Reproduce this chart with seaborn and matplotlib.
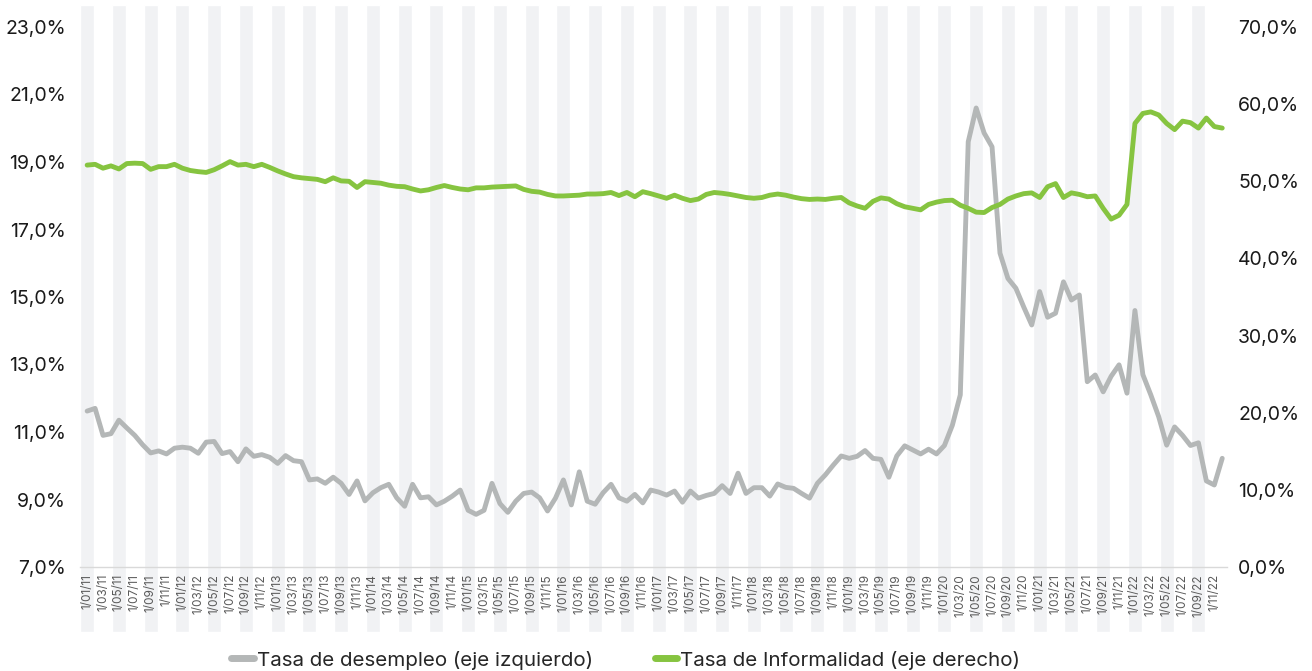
import numpy as np
import pandas as pd
import matplotlib
matplotlib.use('Agg')
import matplotlib.pyplot as plt
from matplotlib.lines import Line2D
import seaborn as sns

# tasa de desempleo mensual (%), ene-2011 .. dic-2022 (eje izquierdo)
desempleo = [
    11.62, 11.70, 10.90, 10.95, 11.35, 11.12, 10.90, 10.62, 10.38, 10.44, 10.35, 10.52,
    10.55, 10.52, 10.37, 10.70, 10.72, 10.36, 10.42, 10.12, 10.50, 10.28, 10.33, 10.25,
    10.07, 10.30, 10.15, 10.12, 9.58, 9.61, 9.48, 9.66, 9.48, 9.15, 9.55, 8.96,
    9.20, 9.35, 9.45, 9.05, 8.80, 9.45, 9.05, 9.08, 8.84, 8.95, 9.10, 9.28,
    8.68, 8.56, 8.68, 9.48, 8.88, 8.62, 8.95, 9.18, 9.22, 9.05, 8.66, 9.04,
    9.58, 8.84, 9.82, 8.95, 8.86, 9.20, 9.45, 9.05, 8.95, 9.15, 8.90, 9.28,
    9.22, 9.13, 9.25, 8.92, 9.25, 9.04, 9.12, 9.18, 9.41, 9.18, 9.78, 9.18,
    9.35, 9.35, 9.10, 9.46, 9.36, 9.33, 9.18, 9.04, 9.48, 9.73, 10.02, 10.29,
    10.22, 10.28, 10.45, 10.22, 10.19, 9.66, 10.29, 10.59, 10.47, 10.35, 10.49, 10.35,
    10.60, 11.20, 12.10, 19.60, 20.60, 19.86, 19.45, 16.30, 15.55, 15.26, 14.70, 14.17,
    15.16, 14.40, 14.52, 15.45, 14.91, 15.06, 12.49, 12.69, 12.19, 12.65, 12.99, 12.15,
    14.60, 12.70, 12.10, 11.45, 10.61, 11.15, 10.90, 10.60, 10.68, 9.55, 9.43, 10.22,
]

# tasa de informalidad mensual (%), eje derecho
informalidad = [
    52.10, 52.20, 51.70, 52.00, 51.60, 52.30, 52.35, 52.30, 51.55, 51.90, 51.90, 52.20,
    51.70, 51.40, 51.25, 51.15, 51.50, 52.00, 52.55, 52.10, 52.20, 51.90, 52.20, 51.80,
    51.35, 50.95, 50.60, 50.45, 50.35, 50.25, 49.95, 50.45, 50.05, 50.00, 49.20, 49.95,
    49.85, 49.75, 49.50, 49.35, 49.30, 49.00, 48.75, 48.90, 49.20, 49.45, 49.20, 49.00,
    48.90, 49.15, 49.15, 49.25, 49.30, 49.35, 49.40, 48.95, 48.70, 48.60, 48.30, 48.10,
    48.10, 48.15, 48.20, 48.35, 48.35, 48.40, 48.55, 48.15, 48.55, 48.00, 48.65, 48.40,
    48.10, 47.80, 48.20, 47.80, 47.50, 47.70, 48.30, 48.55, 48.45, 48.30, 48.10, 47.90,
    47.80, 47.90, 48.20, 48.35, 48.20, 47.95, 47.75, 47.65, 47.70, 47.65, 47.80, 47.90,
    47.20, 46.80, 46.50, 47.40, 47.85, 47.70, 47.10, 46.70, 46.50, 46.30, 47.00, 47.30,
    47.50, 47.55, 46.90, 46.50, 46.00, 45.95, 46.60, 47.00, 47.70, 48.10, 48.40, 48.50,
    47.90, 49.30, 49.70, 47.90, 48.50, 48.30, 48.00, 48.10, 46.50, 45.10, 45.60, 47.00,
    57.50, 58.80, 59.00, 58.60, 57.50, 56.70, 57.80, 57.60, 56.90, 58.20, 57.10, 56.90,
]

fechas = pd.date_range('2011-01-01', '2022-12-01', freq='MS')
etiquetas = [f"1/{d.month:02d}/{d.year % 100:02d}" for d in fechas]
ticks_izq = [7, 9, 11, 13, 15, 17, 19, 21, 23]
ticks_der = [0, 10, 20, 30, 40, 50, 60, 70]

df = pd.DataFrame({'mes': np.arange(len(fechas)),
                   'desempleo': desempleo,
                   'informalidad': informalidad})

gris = '#b4b7b7'
verde = '#86c440'

sns.set_style('white')
plt.rcParams['font.family'] = ['Inter', 'DejaVu Sans']

W, H = 1312, 671
fig = plt.figure(figsize=(W / 100, H / 100), dpi=100)
x0, x1 = 80 / W, 1227 / W
xlim = (-0.9, 143.6)

# franjas grises de fondo (llegan por debajo del eje, detras de las fechas)
bg = fig.add_axes([x0, 1 - 632 / H, x1 - x0, (632 - 5) / H])
bg.bar(df['mes'][::4], 1, width=1.76, color='#f1f2f4', align='center')
bg.set_xlim(xlim)
bg.set_ylim(0, 1)
bg.axis('off')

ax = fig.add_axes([x0, 1 - 567 / H, x1 - x0, (567 - 5) / H])
ax.patch.set_alpha(0)
ax2 = ax.twinx()

sns.lineplot(data=df, x='mes', y='desempleo', ax=ax, color=gris, lw=3.5,
             solid_capstyle='round', solid_joinstyle='round')
sns.lineplot(data=df, x='mes', y='informalidad', ax=ax2, color=verde, lw=3.5,
             solid_capstyle='round', solid_joinstyle='round')

ax.set_xlim(xlim)
ax.set_ylim(7, 7 + 562 / 33.75)
ax2.set_ylim(0, 562 / 7.714)

ax.set_xticks(df['mes'][::2])
ax.set_xticklabels(etiquetas[::2], rotation=90, fontsize=8.5, color='#5a5a5a')
ax.set_yticks(ticks_izq)
ax.set_yticklabels([f"{v},0%" for v in ticks_izq], fontsize=14, color='#1a1a1a')
ax2.set_yticks(ticks_der)
ax2.set_yticklabels([f"{v},0%" for v in ticks_der], fontsize=14, color='#1a1a1a')

ax.tick_params(axis='x', length=0, pad=5)
ax.tick_params(axis='y', length=0, pad=10)
ax2.tick_params(axis='y', length=0, pad=8)
ax.set_xlabel('')
ax.set_ylabel('')
ax2.set_ylabel('')

for s in ['top', 'left', 'right']:
    ax.spines[s].set_visible(False)
ax.spines['bottom'].set_color('#d9d9d9')
ax.spines['bottom'].set_linewidth(1)
for s in ax2.spines.values():
    s.set_visible(False)

handles = [Line2D([0], [0], color=gris, lw=5),
           Line2D([0], [0], color=verde, lw=5)]
fig.legend(handles, ['Tasa de desempleo (eje izquierdo)', 'Tasa de Informalidad (eje derecho)'],
           loc='center', bbox_to_anchor=(0.477, 1 - 660 / H), ncol=2, frameon=False,
           fontsize=14.8, handlelength=1.1, handletextpad=0.15, columnspacing=3.0)

fig.savefig('out.png', dpi=100)
